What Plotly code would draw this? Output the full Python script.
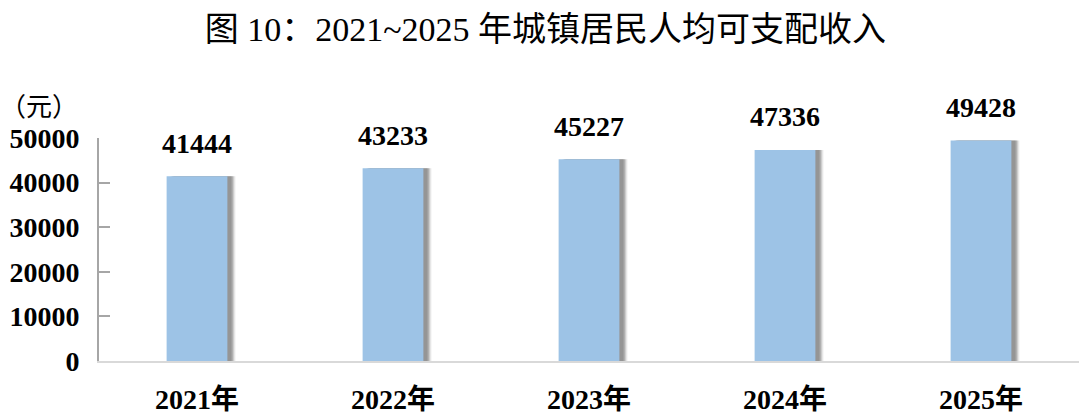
import plotly.graph_objects as go

years = ["2021年", "2022年", "2023年", "2024年", "2025年"]
income = [41444, 43233, 45227, 47336, 49428]
y_ticks = [0, 10000, 20000, 30000, 40000, 50000]

serif = "Liberation Serif, Times New Roman, Noto Sans CJK SC, serif"
bar_w = 0.31

fig = go.Figure()
# soft shadow layers
for dx, op in [(0.042, 0.08), (0.037, 0.14), (0.032, 0.22), (0.027, 0.30), (0.02, 0.25)]:
    fig.add_trace(go.Bar(
        x=years, y=income, width=bar_w, offset=-bar_w / 2 + dx,
        marker=dict(color=f"rgba(100,100,100,{op})", line=dict(width=0)),
        hoverinfo="skip", showlegend=False,
    ))
fig.add_trace(go.Bar(
    x=years, y=income, width=bar_w, offset=-bar_w / 2,
    marker=dict(color="#9dc3e6", line=dict(width=0)),
    showlegend=False,
))

for xv, yv in zip(years, income):
    fig.add_annotation(x=xv, y=yv, text=f"<b>{yv}</b>", showarrow=False,
                       yshift=33, font=dict(family=serif, size=28, color="black"))

fig.add_annotation(xref="paper", yref="paper", x=-19 / 980, y=1.0, yshift=34,
                   text="（元）", showarrow=False, xanchor="right", yanchor="middle",
                   font=dict(family="Noto Sans CJK SC", size=26, color="black"))

fig.update_layout(
    width=1080, height=420,
    margin=dict(l=99, r=1, t=138, b=59),
    plot_bgcolor="white", paper_bgcolor="white",
    barmode="overlay",
    title=dict(text="图 10：2021~2025 年城镇居民人均可支配收入", x=0.505, xanchor="center",
               y=0.93, yanchor="middle",
               font=dict(family=serif, size=34, color="black")),
    xaxis=dict(showline=True, linecolor="#d9d9d9", linewidth=2, ticks="",
               tickfont=dict(family=serif, size=28, color="black"),
               showgrid=False, ticklabelstandoff=12, automargin=False),
    yaxis=dict(range=[0, 50000], tickvals=y_ticks,
               ticktext=[f"<b>{v}</b>" for v in y_ticks],
               showline=True, linecolor="#a6a6a6", linewidth=2,
               ticks="inside", ticklen=11, tickcolor="#a6a6a6", tickwidth=2,
               tickfont=dict(family=serif, size=28, color="black"),
               showgrid=False, zeroline=False, ticklabelstandoff=12, automargin=False),
)
fig.update_xaxes(tickvals=years, ticktext=[f"<b>{y}</b>" for y in years])

fig.write_html("out.html", config={"displayModeBar": False},
               post_script="document.body.style.margin='0';")
